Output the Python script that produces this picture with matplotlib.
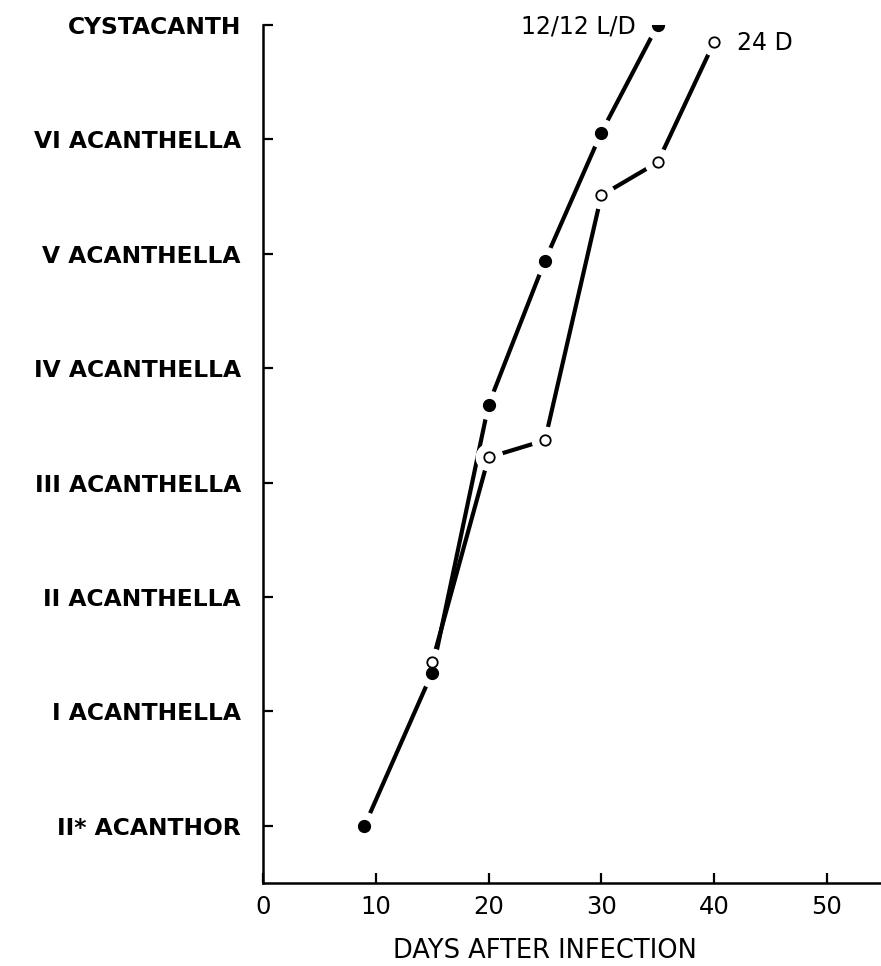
import matplotlib
matplotlib.use("Agg")
import matplotlib.pyplot as plt
import matplotlib.transforms as mtransforms

# ---- data ----
stage_labels = ["II* ACANTHOR", "I ACANTHELLA", "II ACANTHELLA", "III ACANTHELLA",
                "IV ACANTHELLA", "V ACANTHELLA", "VI ACANTHELLA", "CYSTACANTH"]
x_ticks = [0, 10, 20, 30, 40, 50]

days_ld = [9, 15, 20, 25, 30, 35]
stage_ld = [0.0, 1.34, 3.68, 4.94, 6.06, 7.0]

days_d = [15, 20, 25, 30, 35, 40]
stage_d = [1.43, 3.22, 3.37, 5.51, 5.80, 6.85]

series_ld_label = "12/12 L/D"
series_d_label = "24 D"
x_label = "DAYS AFTER INFECTION"

# ---- figure ----
fig = plt.figure(figsize=(8.81, 9.66), dpi=100)
ax = fig.add_axes([263 / 881, 83 / 966, (881 - 263) / 881, 858 / 966])

lw = 3.0
ax.plot(days_ld, stage_ld, color="black", lw=lw, zorder=1, solid_capstyle="butt")
ax.plot(days_d, stage_d, color="black", lw=lw, zorder=1, solid_capstyle="butt")

# white halos to create gaps around markers
ax.plot(days_ld, stage_ld, ls="none", marker="o", ms=20, mfc="white", mec="white", zorder=2)
ax.plot(days_d, stage_d, ls="none", marker="o", ms=19, mfc="white", mec="white", zorder=2)

ax.plot(days_ld, stage_ld, ls="none", marker="o", ms=8.5, mfc="black", mec="black", zorder=3)
ax.plot(days_d, stage_d, ls="none", marker="o", ms=7.5, mfc="white", mec="black", mew=1.3, zorder=4)

ax.annotate(series_ld_label, xy=(days_ld[-1], stage_ld[-1]), xytext=(-22, -1),
            textcoords="offset pixels", ha="right", va="center", fontsize=17,
            family="DejaVu Sans")
ax.annotate(series_d_label, xy=(days_d[-1], stage_d[-1]), xytext=(23, -1),
            textcoords="offset pixels", ha="left", va="center", fontsize=17,
            family="DejaVu Sans")

ax.set_xlim(0, 54.8)
ax.set_ylim(-0.5, 7)

ax.set_yticks(range(len(stage_labels)))
ax.set_yticklabels(stage_labels, fontsize=16.8, fontweight="bold", family="DejaVu Sans")
ax.set_xticks(x_ticks)
ax.set_xticklabels([str(v) for v in x_ticks], fontsize=17.5, family="DejaVu Sans")

ax.tick_params(axis="y", direction="in", length=7, width=1.6, pad=16, colors="black")
ax.tick_params(axis="x", direction="in", length=7, width=1.6, pad=9, colors="black")

for s in ["top", "right"]:
    ax.spines[s].set_visible(False)
for s in ["left", "bottom"]:
    ax.spines[s].set_linewidth(1.8)
    ax.spines[s].set_color("black")

ax.text(25, -0.5, x_label, ha="center", va="baseline", fontsize=18.5, family="DejaVu Sans",
        transform=ax.transData + mtransforms.ScaledTranslation(0, -75 / 100, fig.dpi_scale_trans))

fig.savefig("out.png", dpi=100)
